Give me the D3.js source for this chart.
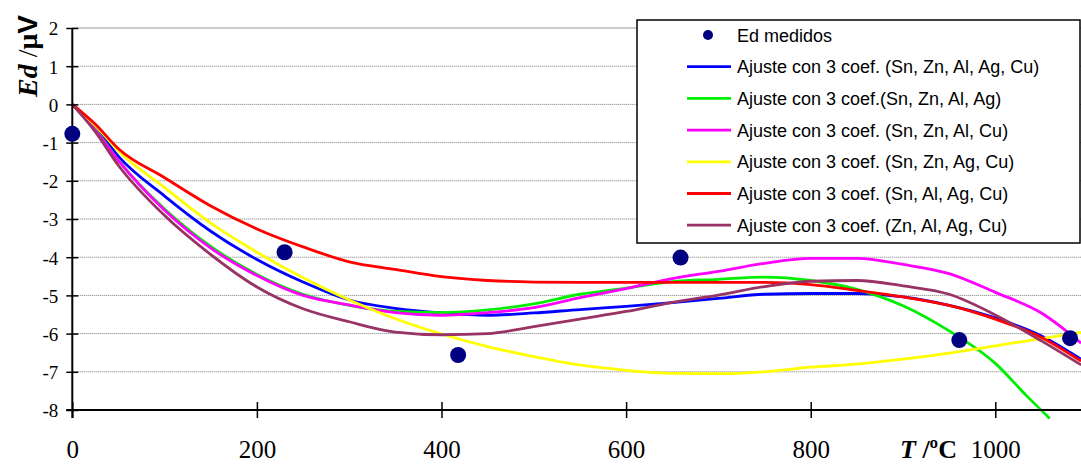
<!DOCTYPE html>
<html>
<head>
<meta charset="utf-8">
<script src="https://cdn.jsdelivr.net/npm/d3@7"></script>
<style>
  body { margin: 0; background: #fff; }
  svg { display: block; }
</style>
</head>
<body>
<svg id="chart"></svg>
<script>
// Data
var temps = [0, 25, 50, 100, 150, 200, 250, 300, 350, 400, 450, 500, 550, 600, 650, 700, 750, 800, 850, 900, 950, 1000, 1050, 1093];

var blueVals    = [0, -0.59, -1.36, -2.40, -3.32, -4.06, -4.65, -5.12, -5.34, -5.46, -5.52, -5.46, -5.37, -5.29, -5.19, -5.08, -4.97, -4.95, -4.95, -5.04, -5.26, -5.59, -6.06, -6.67];
var greenVals   = [0, -0.66, -1.47, -2.74, -3.72, -4.45, -4.97, -5.26, -5.42, -5.45, -5.38, -5.22, -4.97, -4.81, -4.64, -4.58, -4.52, -4.61, -4.84, -5.27, -5.93, -6.78, null, null];
var magentaVals = [0, -0.68, -1.47, -2.77, -3.76, -4.48, -5.00, -5.25, -5.45, -5.52, -5.45, -5.32, -5.06, -4.82, -4.56, -4.37, -4.16, -4.03, -4.03, -4.19, -4.43, -4.92, -5.46, -6.25];
var yellowVals  = [0, -0.55, -1.22, -2.18, -3.11, -3.87, -4.54, -5.12, -5.61, -6.01, -6.34, -6.60, -6.82, -6.96, -7.04, -7.05, -7.00, -6.88, -6.80, -6.67, -6.51, -6.32, -6.13, -5.97];
var redVals     = [0, -0.52, -1.16, -1.92, -2.66, -3.26, -3.73, -4.12, -4.32, -4.51, -4.61, -4.65, -4.66, -4.66, -4.66, -4.66, -4.66, -4.72, -4.87, -5.04, -5.26, -5.62, -6.10, -6.72];
var purpleVals  = [0, -0.72, -1.60, -2.91, -3.93, -4.78, -5.35, -5.69, -5.96, -6.03, -6.00, -5.82, -5.62, -5.42, -5.18, -4.99, -4.77, -4.63, -4.61, -4.75, -4.97, -5.51, -6.19, -6.82];

// green tail drops below the axis before 1060
var greenTailT = [1034, 1059];
var greenTailV = [-7.63, -8.22];

// measured points
var measuredT = [0, 230, 418, 659, 961, 1081];
var measuredV = [-0.77, -3.87, -6.56, -4.01, -6.17, -6.12];

var xTicks = [0, 200, 400, 600, 800, 1000];
var yTicks = [2, 1, 0, -1, -2, -3, -4, -5, -6, -7, -8];

var seriesNames = [
    "Ajuste con 3 coef. (Sn, Zn, Al, Ag, Cu)",
    "Ajuste con 3 coef.(Sn, Zn, Al, Ag)",
    "Ajuste con 3 coef. (Sn, Zn, Al, Cu)",
    "Ajuste con 3 coef. (Sn, Zn, Ag, Cu)",
    "Ajuste con 3 coef. (Sn, Al, Ag, Cu)",
    "Ajuste con 3 coef. (Zn, Al, Ag, Cu)"
];
var seriesColors = ["#0000ff", "#00ee00", "#ff00ff", "#ffff00", "#ff0000", "#993366"];

document.addEventListener('DOMContentLoaded', function () {
    var width = 1081;
    var height = 464;

    var svg = d3.select('#chart')
        .attr('width', width)
        .attr('height', height);

    // Scales
    var x = d3.scaleLinear().domain([0, 1000]).range([72.3, 995.3]);
    var y = d3.scaleLinear().domain([-8, 2]).range([410, 28]);

    // Gridlines
    svg.selectAll('.grid')
        .data(yTicks.filter(d => d !== -8))
        .enter().append('line')
        .attr('x1', x(0)).attr('x2', width)
        .attr('y1', d => y(d)).attr('y2', d => y(d))
        .style('stroke', d => d === 2 ? '#999' : '#777')
        .style('stroke-width', 1)
        .style('stroke-dasharray', d => d === 2 ? null : '1,1');

    // Build series
    var allVals = [blueVals, greenVals, magentaVals, yellowVals, redVals, purpleVals];
    var series = allVals.map(function (vals, i) {
        var pts = [];
        temps.forEach(function (t, j) {
            if (vals[j] !== null) pts.push([t, vals[j]]);
        });
        if (i === 1) {
            greenTailT.forEach(function (t, j) { pts.push([t, greenTailV[j]]); });
        }
        return { name: seriesNames[i], color: seriesColors[i], pts: pts };
    });

    var line = d3.line()
        .curve(d3.curveMonotoneX)
        .x(d => x(d[0]))
        .y(d => y(d[1]));

    svg.selectAll('.curve')
        .data(series)
        .enter().append('path')
        .attr('class', 'curve')
        .attr('d', d => line(d.pts))
        .style('fill', 'none')
        .style('stroke', d => d.color)
        .style('stroke-width', 2.8)
        .style('stroke-linejoin', 'round');

    var serif = '"Liberation Serif", "Times New Roman", serif';

    // Axes
    var yAxis = d3.axisLeft(y).tickValues(yTicks).tickSize(0).tickFormat(d => String(d));
    var gy = svg.append('g')
        .attr('transform', 'translate(' + x(0) + ',0)')
        .call(yAxis);
    gy.select('.domain').remove();
    gy.selectAll('.tick text')
        .attr('x', -14)
        .attr('dy', '0.36em')
        .style('font-family', serif)
        .style('font-size', '19px')
        .style('fill', '#000');
    gy.selectAll('.tick').append('line')
        .attr('x1', -6).attr('x2', 6)
        .style('stroke', '#000').style('stroke-width', 1.5);

    var xAxis = d3.axisBottom(x).tickValues(xTicks).tickSize(0).tickFormat(d => String(d));
    var gx = svg.append('g')
        .attr('transform', 'translate(0,' + y(-8) + ')')
        .call(xAxis);
    gx.select('.domain').remove();
    gx.selectAll('.tick text')
        .attr('y', 48)
        .attr('dy', 0)
        .style('font-family', serif)
        .style('font-size', '25px')
        .style('fill', '#000');
    gx.selectAll('.tick').append('line')
        .attr('y1', -8).attr('y2', 8)
        .style('stroke', '#000').style('stroke-width', 1.5);

    // Axis lines
    svg.append('line')
        .attr('x1', x(0)).attr('x2', x(0))
        .attr('y1', y(2)).attr('y2', y(-8) + 8)
        .style('stroke', '#000').style('stroke-width', 2);
    svg.append('line')
        .attr('x1', x(0) - 6).attr('x2', width)
        .attr('y1', y(-8)).attr('y2', y(-8))
        .style('stroke', '#000').style('stroke-width', 2);

    // Measured points
    svg.selectAll('.dot')
        .data(measuredT.map((t, i) => [t, measuredV[i]]))
        .enter().append('circle')
        .attr('class', 'dot')
        .attr('cx', d => x(d[0]))
        .attr('cy', d => y(d[1]))
        .attr('r', 8)
        .style('fill', '#000080');

    // Axis titles
    var yTitle = svg.append('text')
        .attr('transform', 'translate(37,97) rotate(-90)')
        .style('font-size', '28px')
        .style('fill', '#000');
    yTitle.append('tspan')
        .style('font-family', serif)
        .style('font-weight', 'bold').style('font-style', 'italic')
        .text('Ed');
    yTitle.append('tspan')
        .style('font-family', serif)
        .text(' /');
    yTitle.append('tspan')
        .style('font-family', serif)
        .style('font-weight', 'bold')
        .text('μ');
    yTitle.append('tspan')
        .style('font-family', '"Liberation Sans", Arial, sans-serif')
        .style('font-weight', 'bold')
        .text('V');

    var xTitle = svg.append('text')
        .attr('x', 900).attr('y', 458)
        .style('font-family', serif)
        .style('font-size', '26px')
        .style('font-weight', 'bold')
        .style('fill', '#000');
    xTitle.append('tspan').style('font-style', 'italic').text('T');
    xTitle.append('tspan').text(' /ºC');

    // Legend
    var legend = svg.append('g');
    legend.append('rect')
        .attr('x', 637).attr('y', 20)
        .attr('width', 443).attr('height', 223)
        .style('fill', '#fff')
        .style('stroke', '#000')
        .style('stroke-width', 1.5);

    var rowY = d => 35 + d * 31.7;
    var legendFont = '"Liberation Sans", Arial, sans-serif';

    legend.append('circle')
        .attr('cx', 708).attr('cy', rowY(0)).attr('r', 5)
        .style('fill', '#000080');
    legend.append('text')
        .attr('x', 737).attr('y', rowY(0) + 6.5)
        .style('font-family', legendFont)
        .style('font-size', '18px')
        .text('Ed medidos');

    var items = legend.selectAll('.item')
        .data(series)
        .enter().append('g')
        .attr('class', 'item');
    items.append('line')
        .attr('x1', 687).attr('x2', 731)
        .attr('y1', (d, i) => rowY(i + 1)).attr('y2', (d, i) => rowY(i + 1))
        .style('stroke', d => d.color)
        .style('stroke-width', 2.8);
    items.append('text')
        .attr('x', 737).attr('y', (d, i) => rowY(i + 1) + 6.5)
        .style('font-family', legendFont)
        .style('font-size', '18px')
        .text(d => d.name);
});
</script>
</body>
</html>
